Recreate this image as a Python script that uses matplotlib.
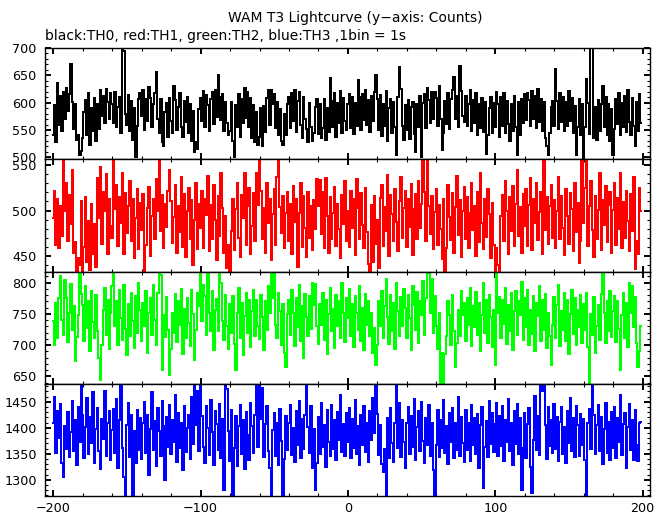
import numpy as np
import matplotlib
matplotlib.use("Agg")
import matplotlib.pyplot as plt
from matplotlib.ticker import MultipleLocator

# time bins (1 s)
t_bins = np.arange(-200, 200)

# TH0 counts (black)
th0 = [
    540, 596, 528, 636, 560, 612, 548, 620, 571, 627, 584, 615, 671, 602, 552, 598, 531, 540, 505, 512,
    536, 583, 604, 541, 617, 522, 590, 548, 609, 530, 597, 551, 624, 575, 612, 562, 625, 601, 570, 618,
    598, 563, 620, 556, 592, 611, 545, 700, 694, 579, 560, 614, 548, 603, 532, 590, 500, 558, 606, 617,
    576, 624, 550, 607, 566, 628, 609, 556, 598, 618, 656, 571, 544, 606, 528, 520, 583, 600, 537, 609,
    566, 545, 630, 604, 550, 592, 618, 556, 538, 603, 565, 610, 545, 598, 530, 585, 510, 528, 516, 588,
    608, 566, 622, 556, 614, 595, 549, 606, 620, 561, 624, 573, 651, 611, 568, 616, 548, 601, 562, 540,
    548, 602, 530, 500, 596, 555, 616, 538, 607, 563, 626, 572, 620, 556, 608, 536, 595, 528, 583, 522,
    538, 590, 520, 594, 547, 608, 624, 560, 624, 598, 615, 553, 601, 541, 589, 530, 522, 580, 540, 597,
    610, 553, 617, 566, 624, 546, 603, 620, 560, 535, 611, 570, 552, 528, 599, 556, 530, 545, 593, 606,
    542, 597, 535, 553, 606, 531, 590, 547, 645, 603, 555, 617, 538, 599, 562, 622, 544, 608, 566, 550,
    597, 616, 553, 610, 542, 600, 557, 641, 610, 550, 615, 568, 624, 560, 604, 547, 612, 566, 619, 650,
    606, 550, 614, 539, 598, 558, 622, 530, 591, 607, 545, 601, 555, 504, 610, 666, 625, 557, 531, 596,
    550, 605, 534, 592, 601, 543, 510, 597, 556, 612, 500, 600, 616, 553, 626, 604, 562, 619, 570, 620,
    609, 557, 630, 570, 514, 545, 603, 561, 617, 551, 606, 624, 647, 570, 613, 556, 667, 621, 575, 565,
    612, 557, 598, 623, 548, 605, 562, 617, 540, 597, 553, 609, 546, 601, 507, 540, 590, 611, 545, 600,
    556, 620, 598, 538, 611, 557, 617, 545, 603, 561, 530, 598, 549, 612, 556, 504, 601, 540, 606, 563,
    616, 568, 617, 604, 557, 621, 571, 612, 553, 625, 565, 607, 549, 601, 536, 520, 504, 545, 592, 603,
    558, 662, 603, 551, 617, 565, 610, 548, 602, 557, 621, 567, 609, 545, 594, 505, 556, 607, 541, 597,
    495, 556, 644, 599, 543, 700, 702, 535, 592, 531, 604, 549, 597, 630, 555, 610, 541, 598, 530, 589,
    504, 552, 606, 561, 617, 541, 600, 555, 612, 546, 624, 565, 540, 608, 557, 520, 602, 549, 615, 563,
]

# TH1 counts (red)
th1 = [
    492, 522, 462, 513, 458, 505, 472, 560, 500, 530, 466, 517, 485, 545, 453, 465, 432, 448, 440, 511,
    432, 460, 515, 443, 488, 434, 507, 452, 485, 438, 536, 492, 548, 463, 521, 499, 540, 452, 513, 483,
    470, 560, 502, 528, 461, 515, 486, 541, 452, 519, 475, 505, 533, 466, 513, 448, 492, 524, 457, 508,
    478, 518, 432, 462, 503, 526, 450, 494, 513, 468, 535, 500, 560, 477, 517, 459, 507, 482, 522, 545,
    511, 464, 493, 528, 453, 505, 476, 537, 460, 518, 449, 500, 525, 468, 512, 440, 489, 531, 457, 507,
    481, 522, 459, 513, 495, 538, 455, 506, 468, 528, 490, 445, 516, 472, 542, 503, 453, 494, 436, 462,
    432, 477, 513, 456, 502, 530, 470, 449, 517, 492, 542, 462, 505, 525, 452, 483, 519, 466, 541, 506,
    560, 522, 469, 503, 453, 530, 486, 513, 445, 496, 524, 462, 537, 560, 504, 475, 516, 458, 497, 521,
    466, 507, 452, 527, 487, 513, 438, 497, 531, 460, 516, 481, 449, 521, 470, 505, 456, 512, 480, 535,
    505, 534, 474, 520, 458, 536, 494, 453, 515, 468, 497, 526, 461, 507, 480, 448, 517, 485, 533, 466,
    499, 460, 522, 481, 513, 451, 535, 503, 468, 519, 484, 458, 525, 476, 441, 432, 506, 443, 516, 463,
    490, 436, 514, 528, 461, 504, 477, 539, 450, 517, 496, 466, 524, 487, 455, 511, 537, 470, 503, 522,
    460, 513, 482, 529, 451, 502, 518, 468, 533, 481, 507, 560, 521, 466, 560, 505, 474, 516, 457, 498,
    524, 462, 506, 480, 446, 513, 432, 459, 528, 493, 467, 519, 453, 504, 538, 473, 512, 449, 499, 526,
    468, 515, 459, 497, 531, 478, 505, 450, 520, 465, 541, 486, 457, 513, 471, 524, 496, 447, 508, 462,
    432, 458, 440, 432, 494, 517, 466, 533, 500, 452, 515, 477, 527, 461, 507, 545, 472, 504, 453, 518,
    483, 524, 461, 506, 536, 456, 513, 486, 530, 467, 498, 521, 452, 560, 478, 515, 463, 505, 528, 470,
    512, 459, 500, 537, 468, 516, 481, 451, 524, 494, 463, 519, 502, 455, 531, 476, 508, 442, 466, 560,
    486, 525, 560, 461, 505, 533, 478, 449, 516, 468, 501, 541, 456, 512, 484, 527, 465, 506, 520, 453,
    501, 531, 462, 514, 480, 542, 459, 509, 470, 522, 488, 455, 518, 477, 537, 435, 466, 452, 525, 500,
]

# TH2 counts (green)
th2 = [
    738, 700, 768, 712, 775, 810, 740, 716, 805, 776, 705, 752, 798, 724, 763, 675, 713, 748, 820, 782,
    764, 706, 795, 728, 770, 690, 786, 737, 712, 780, 722, 680, 645, 700, 757, 792, 716, 772, 694, 751,
    795, 820, 730, 771, 700, 788, 744, 708, 796, 726, 684, 766, 714, 783, 739, 695, 778, 720, 800, 757,
    706, 768, 730, 787, 688, 752, 775, 716, 797, 740, 700, 783, 820, 812, 660, 749, 713, 777, 724, 652,
    694, 752, 720, 782, 705, 770, 733, 790, 686, 758, 712, 776, 735, 698, 788, 750, 676, 724, 784, 762,
    820, 738, 797, 778, 716, 818, 752, 722, 787, 692, 757, 774, 723, 820, 800, 738, 708, 780, 730, 694,
    766, 719, 778, 702, 660, 751, 792, 712, 767, 684, 747, 783, 720, 772, 697, 754, 788, 714, 773, 730,
    710, 781, 745, 693, 771, 724, 795, 752, 820, 776, 815, 733, 712, 784, 755, 700, 766, 688, 665, 750,
    772, 716, 788, 752, 698, 776, 729, 797, 707, 762, 680, 782, 745, 714, 779, 726, 800, 765, 798, 730,
    702, 766, 733, 784, 709, 772, 686, 750, 792, 722, 758, 696, 781, 731, 770, 712, 800, 752, 705, 776,
    744, 790, 714, 766, 697, 779, 752, 724, 795, 706, 760, 692, 782, 733, 771, 715, 752, 688, 728, 668,
    700, 770, 730, 786, 712, 763, 806, 745, 702, 780, 722, 768, 694, 799, 754, 715, 777, 730, 790, 760,
    711, 780, 744, 693, 794, 765, 724, 785, 704, 770, 748, 802, 717, 775, 820, 816, 752, 806, 719, 778,
    730, 694, 752, 640, 688, 636, 686, 715, 770, 748, 701, 780, 722, 665, 703, 757, 714, 786, 749, 768,
    706, 776, 733, 792, 698, 763, 729, 785, 716, 767, 690, 749, 799, 720, 772, 704, 781, 745, 697, 757,
    668, 820, 751, 777, 711, 772, 734, 791, 702, 765, 723, 783, 692, 755, 787, 716, 770, 748, 801, 708,
    775, 729, 788, 700, 756, 718, 779, 690, 768, 746, 795, 707, 773, 725, 782, 696, 752, 714, 668, 733,
    777, 712, 765, 796, 698, 754, 724, 784, 707, 772, 686, 750, 788, 718, 775, 700, 756, 729, 780, 704,
    766, 724, 784, 697, 640, 750, 716, 777, 688, 731, 764, 709, 782, 820, 751, 703, 770, 722, 786, 713,
    754, 778, 705, 770, 726, 660, 748, 783, 711, 767, 697, 800, 752, 795, 729, 777, 704, 665, 690, 730,
]

# TH3 counts (blue)
th3 = [
    1410, 1460, 1352, 1432, 1380, 1446, 1333, 1305, 1404, 1360, 1430, 1344, 1391, 1452, 1355, 1415, 1328, 1440, 1372, 1490,
    1425, 1342, 1402, 1458, 1350, 1420, 1370, 1468, 1333, 1398, 1438, 1356, 1320, 1416, 1378, 1470, 1346, 1410, 1432, 1338,
    1395, 1436, 1352, 1456, 1322, 1414, 1490, 1362, 1305, 1262, 1406, 1447, 1344, 1424, 1262, 1393, 1332, 1435, 1358, 1418,
    1340, 1409, 1449, 1352, 1425, 1310, 1398, 1468, 1358, 1413, 1326, 1437, 1393, 1346, 1452, 1404, 1300, 1421, 1364, 1444,
    1349, 1414, 1372, 1463, 1334, 1428, 1362, 1409, 1318, 1441, 1354, 1400, 1425, 1340, 1459, 1369, 1490, 1406, 1470, 1356,
    1485, 1422, 1364, 1333, 1442, 1399, 1347, 1454, 1392, 1328, 1433, 1407, 1357, 1446, 1341, 1416, 1280, 1488, 1475, 1394,
    1336, 1434, 1262, 1361, 1422, 1326, 1404, 1443, 1349, 1414, 1320, 1430, 1386, 1339, 1448, 1403, 1352, 1425, 1485, 1364,
    1480, 1416, 1476, 1343, 1408, 1441, 1356, 1322, 1262, 1396, 1429, 1346, 1410, 1328, 1436, 1375, 1262, 1340, 1422, 1358,
    1410, 1443, 1348, 1400, 1335, 1432, 1366, 1452, 1342, 1416, 1360, 1425, 1490, 1402, 1352, 1441, 1322, 1397, 1280, 1333,
    1421, 1350, 1448, 1363, 1406, 1324, 1435, 1372, 1346, 1444, 1360, 1415, 1338, 1430, 1377, 1462, 1354, 1408, 1345, 1428,
    1372, 1438, 1341, 1416, 1362, 1454, 1349, 1404, 1329, 1424, 1367, 1442, 1353, 1410, 1335, 1433, 1376, 1458, 1390, 1490,
    1426, 1348, 1406, 1331, 1315, 1360, 1262, 1418, 1342, 1437, 1371, 1334, 1410, 1488, 1362, 1447, 1344, 1415, 1373, 1322,
    1409, 1440, 1350, 1423, 1364, 1456, 1339, 1402, 1432, 1356, 1449, 1375, 1332, 1418, 1366, 1443, 1346, 1410, 1318, 1262,
    1366, 1434, 1343, 1415, 1361, 1453, 1352, 1404, 1330, 1428, 1373, 1438, 1341, 1410, 1358, 1460, 1345, 1421, 1370, 1334,
    1435, 1358, 1409, 1336, 1444, 1367, 1418, 1350, 1426, 1322, 1405, 1440, 1285, 1363, 1413, 1343, 1452, 1369, 1428, 1353,
    1407, 1448, 1345, 1422, 1365, 1442, 1337, 1414, 1373, 1455, 1356, 1409, 1328, 1432, 1368, 1446, 1349, 1418, 1280, 1362,
    1428, 1342, 1408, 1437, 1324, 1275, 1376, 1461, 1357, 1422, 1348, 1490, 1470, 1485, 1406, 1340, 1440, 1365, 1415, 1351,
    1446, 1360, 1421, 1336, 1411, 1439, 1350, 1402, 1332, 1433, 1370, 1457, 1356, 1418, 1343, 1442, 1406, 1346, 1427, 1366,
    1416, 1339, 1262, 1410, 1436, 1360, 1490, 1424, 1349, 1405, 1444, 1356, 1420, 1331, 1397, 1448, 1352, 1412, 1338, 1431,
    1362, 1439, 1342, 1419, 1372, 1462, 1347, 1408, 1428, 1323, 1401, 1445, 1357, 1415, 1339, 1434, 1367, 1336, 1410, 1412,
]

series = [th0, th1, th2, th3]
colors = ["black", "#ff0000", "#00ff00", "#0000ff"]
ylims = [(497, 700), (432, 557), (638, 817), (1269, 1484)]

plt.rcParams["font.family"] = ["DejaVu Sans"]

W, H = 669, 515
fig = plt.figure(figsize=(W / 100, H / 100), dpi=100)

# panel edges in pixels (top, bottom)
edges = [(48, 159), (159, 272), (272, 384), (384, 496)]
left, right = 45, 650

for i, (top, bot) in enumerate(edges):
    ax = fig.add_axes([left / W, 1 - bot / H, (right - left) / W, (bot - top) / H])
    ax.plot(t_bins, series[i], drawstyle="steps-mid", color=colors[i],
            lw=1.1, antialiased=False)
    ax.set_xlim(-205.6, 205)
    ax.set_ylim(*ylims[i])
    ax.xaxis.set_major_locator(MultipleLocator(100))
    ax.xaxis.set_minor_locator(MultipleLocator(20))
    ax.yaxis.set_major_locator(MultipleLocator(50))
    ax.yaxis.set_minor_locator(MultipleLocator(10))
    ax.tick_params(which="both", direction="in", top=True, right=True, labelsize=9.2)
    ax.tick_params(which="major", length=4.5, width=1.4)
    ax.tick_params(which="minor", length=2.2, width=0.8)
    ax.tick_params(axis="y", pad=6)
    ax.tick_params(axis="x", pad=4)
    for s in ax.spines.values():
        s.set_linewidth(1.0)
    if i < 3:
        ax.tick_params(labelbottom=False)

fig.text(355 / W, 1 - 18 / H, "WAM T3 Lightcurve (y\u2212axis: Counts)",
         ha="center", va="center", fontsize=10)
fig.text(45 / W, 1 - 36 / H, "black:TH0, red:TH1, green:TH2, blue:TH3 ,1bin = 1s",
         ha="left", va="center", fontsize=10)

fig.savefig("out.png", dpi=100)
